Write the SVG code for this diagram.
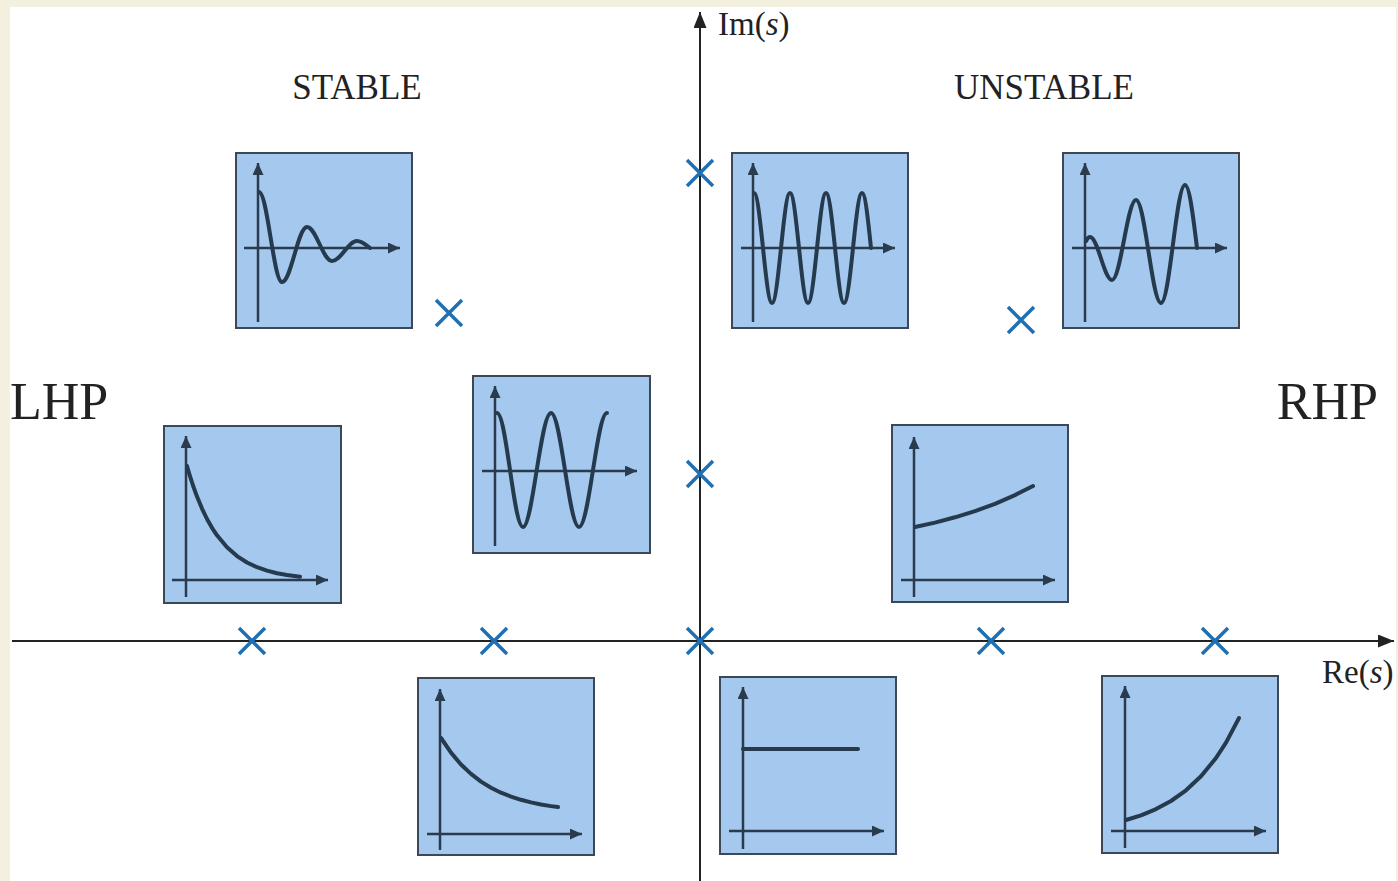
<svg xmlns="http://www.w3.org/2000/svg" width="1398" height="881" viewBox="0 0 1398 881">
<defs>
<marker id="ah" markerUnits="userSpaceOnUse" markerWidth="12" markerHeight="11" refX="12" refY="5.5" orient="auto">
<path d="M0,0 L12,5.5 L0,11 z" fill="#2a3b4d"/>
</marker>
<marker id="bigah" markerUnits="userSpaceOnUse" markerWidth="16" markerHeight="13" refX="16" refY="6.5" orient="auto">
<path d="M0,0 L16,6.5 L0,13 z" fill="#222"/>
</marker>
</defs>
<style>
.box{fill:#a4c8ee;stroke:#3a4858;stroke-width:2}
.ax{fill:none;stroke:#2a3b4d;stroke-width:2.5;marker-end:url(#ah)}
.cv{fill:none;stroke:#263a4e;stroke-width:4;stroke-linecap:round;stroke-linejoin:round}
.main{fill:none;stroke:#222;stroke-width:2;marker-end:url(#bigah)}
.x{stroke:#1f6fb2;stroke-width:3.5;fill:none}
.t{font-family:"Liberation Serif","Times New Roman",serif;fill:#222}
</style>
<rect width="1398" height="881" fill="#f4f0e0"/>
<rect x="10" y="7" width="1386" height="874" fill="#ffffff"/>

<g id="connectors">
<path class="main" d="M700,881 V12"/>
<path class="main" d="M12,641 H1394"/>
</g>

<g id="labels">
<text class="t" x="718" y="35" font-size="33">Im(<tspan font-style="italic">s</tspan>)</text>
<text class="t" x="1322" y="683" font-size="33">Re(<tspan font-style="italic">s</tspan>)</text>
<text class="t" x="357" y="99" font-size="35" text-anchor="middle">STABLE</text>
<text class="t" x="1044" y="99" font-size="35" text-anchor="middle">UNSTABLE</text>
<text class="t" x="10" y="419" font-size="52">LHP</text>
<text class="t" x="1378" y="419" font-size="52" text-anchor="end">RHP</text>
</g>

<g id="poles">
<path class="x" d="M687,160 l26,26 M713,160 l-26,26"/>
<path class="x" d="M436,300 l26,26 M462,300 l-26,26"/>
<path class="x" d="M1008,307 l26,26 M1034,307 l-26,26"/>
<path class="x" d="M687,461 l26,26 M713,461 l-26,26"/>
<path class="x" d="M239,628 l26,26 M265,628 l-26,26"/>
<path class="x" d="M481,628 l26,26 M507,628 l-26,26"/>
<path class="x" d="M687,628 l26,26 M713,628 l-26,26"/>
<path class="x" d="M978,628 l26,26 M1004,628 l-26,26"/>
<path class="x" d="M1202,628 l26,26 M1228,628 l-26,26"/>
</g>

<g id="box-damped" transform="translate(236,153)">
<rect class="box" x="0" y="0" width="176" height="175"/>
<path class="ax" d="M22,169 V10"/>
<path class="ax" d="M8,95 H164"/>
<path class="cv" d="M23,39 C31.4,39 37.6,129 46,129 C55.1,129 61.9,74 71,74 C80.1,74 86.9,108 96,108 C105.1,108 111.9,88 121,88 C125.7,88 129.5,91.5 134,95"/>
</g>

<g id="box-sustained-high" transform="translate(732,153)">
<rect class="box" x="0" y="0" width="176" height="175"/>
<path class="ax" d="M21,169 V10"/>
<path class="ax" d="M9,95 H163"/>
<path class="cv" d="M22,40 c6.55,0 11.45,110 18,110 s11.45,-110 18,-110 s11.45,110 18,110 s11.45,-110 18,-110 s11.45,110 18,110 s11.45,-110 18,-110 c3.27,0 6.02,26.4 9,55"/>
</g>

<g id="box-growing-osc" transform="translate(1063,153)">
<rect class="box" x="0" y="0" width="176" height="175"/>
<path class="ax" d="M22,169 V10"/>
<path class="ax" d="M9,95 H164"/>
<path class="cv" d="M23,88 C24.5,85 25.5,84 27,84 C35,84 41,127 49,127 C57.7,127 64.3,47 73,47 C82.1,47 88.9,150 98,150 C106.7,150 113.3,32 122,32 C126.4,32 130,62 134,95"/>
</g>

<g id="box-decay-fast" transform="translate(164,426)">
<rect class="box" x="0" y="0" width="177" height="177"/>
<path class="ax" d="M22,171 V10"/>
<path class="ax" d="M8,154 H164"/>
<polyline class="cv" points="23,40 26,50.2 29,59.5 33,70.6 38,82.6 43,93 48,101.8 53,109.3 63,121.3 73,130.1 83,136.5 93,141.2 103,144.6 113,147.2 123,149 136,150.7"/>
</g>

<g id="box-sustained-low" transform="translate(473,376)">
<rect class="box" x="0" y="0" width="177" height="177"/>
<path class="ax" d="M22,170 V10"/>
<path class="ax" d="M9,95 H164"/>
<path class="cv" d="M24,37 c9.5,0 16.5,114 26,114 s17.81,-114 28,-114 s17.81,114 28,114 s17.81,-114 28,-114"/>
</g>

<g id="box-growing-slow" transform="translate(892,425)">
<rect class="box" x="0" y="0" width="176" height="177"/>
<path class="ax" d="M22,172 V12"/>
<path class="ax" d="M9,155 H163"/>
<polyline class="cv" points="23,102 43,97.6 63,92.3 83,86.1 103,78.8 123,70.1 141,61"/>
</g>

<g id="box-decay-slow" transform="translate(418,678)">
<rect class="box" x="0" y="0" width="176" height="177"/>
<path class="ax" d="M22,172 V11"/>
<path class="ax" d="M9,156 H164"/>
<polyline class="cv" points="23,60 33,74.6 43,86.5 53,95.9 63,103.6 73,109.7 83,114.7 93,118.6 103,121.8 113,124.4 123,126.5 133,128.1 140,129.1"/>
</g>

<g id="box-constant" transform="translate(720,677)">
<rect class="box" x="0" y="0" width="176" height="177"/>
<path class="ax" d="M23,172 V10"/>
<path class="ax" d="M9,154 H164"/>
<path class="cv" d="M23,72 H138"/>
</g>

<g id="box-growing-fast" transform="translate(1102,676)">
<rect class="box" x="0" y="0" width="176" height="177"/>
<path class="ax" d="M23,172 V10"/>
<path class="ax" d="M9,155 H164"/>
<polyline class="cv" points="24,144 39,139.3 54,133.1 69,125 84,114.3 99,100.3 114,82 124,66.6 137,42"/>
</g>
</svg>
